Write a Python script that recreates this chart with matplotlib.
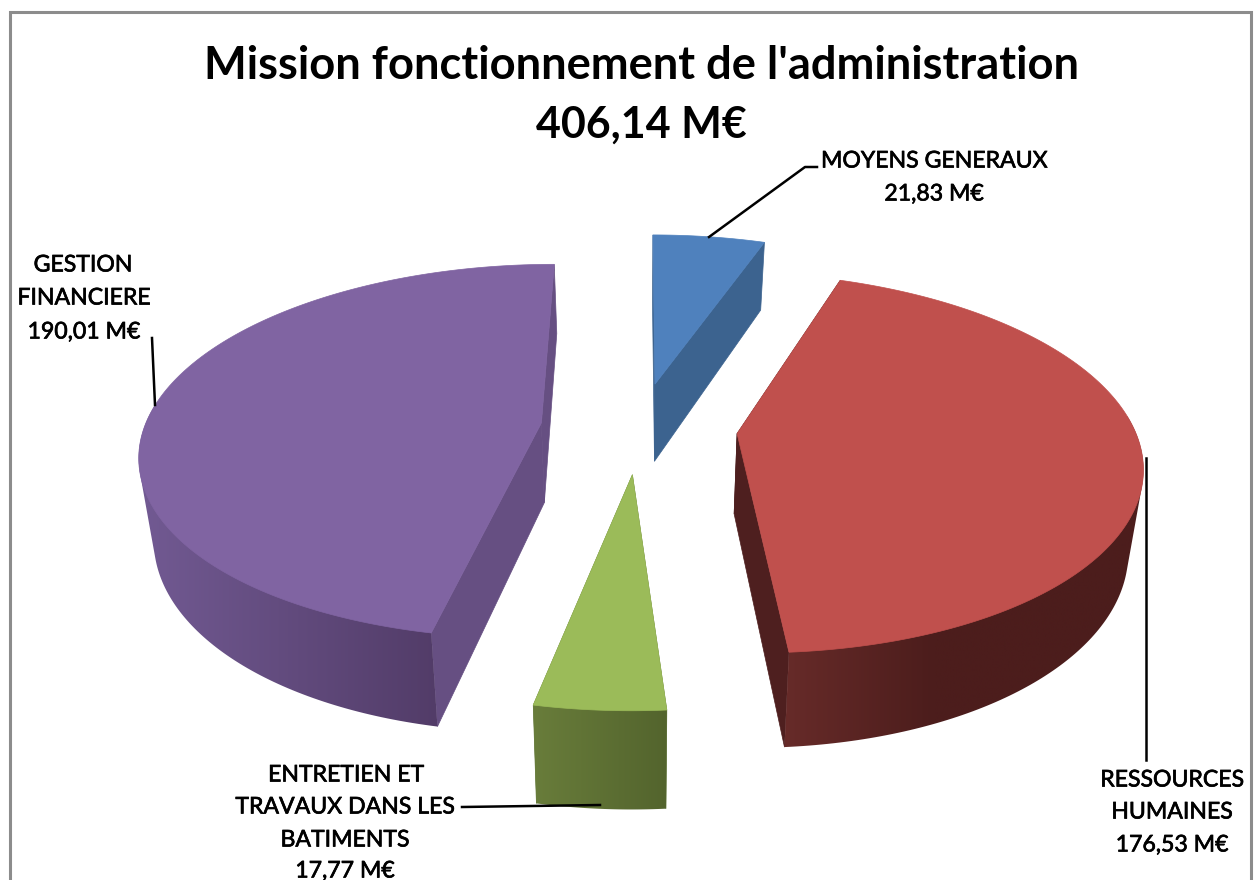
import numpy as np
import matplotlib
matplotlib.use("Agg")
import matplotlib.pyplot as plt
import matplotlib.patheffects as pe
from matplotlib.colors import to_rgb
from matplotlib.patches import Polygon

# Data (clockwise from 12 o'clock)
names = ["MOYENS GENERAUX", "RESSOURCES HUMAINES", "ENTRETIEN ET TRAVAUX DANS LES BATIMENTS", "GESTION FINANCIERE"]
values = [21.83, 176.53, 17.77, 190.01]
value_labels = ["21,83 M€", "176,53 M€", "17,77 M€", "190,01 M€"]
total_label = "406,14 M€"
title_line = "Mission fonctionnement de l'administration"

top_colors = ["#4f81bd", "#c0504d", "#9bbb59", "#8064a2"]
radial_colors = ["#3c638f", "#4e1f1f", "#5f7536", "#664f82"]
wall_start = ["#3c638f", "#672b29", "#697d3b", "#725a93"]
wall_end = ["#3c638f", "#4c1d1c", "#53642d", "#523c68"]

plt.rcParams["font.family"] = ["Lato", "DejaVu Sans"]
fig = plt.figure(figsize=(12.57, 8.8), dpi=100)
ax = fig.add_axes([0, 0, 1, 1])
ax.set_xlim(0, 1257)
ax.set_ylim(880, 0)
ax.axis("off")

# Perspective model
X0, Y0, A, B, K, E, H, DEPTH = 639, 427.5, 397, 184, 0.152, 0.248, 80, 0.97


def project(X, V, bottom=False):
    s = 1 / (1 - K * V)
    x = A * X * s
    y = B * V * s
    if bottom:
        x = x * DEPTH
        y = y + H * s
    return X0 + x, Y0 + y


def hull(points):
    pts = sorted(set(map(tuple, points)))

    def half(seq):
        out = []
        for p in seq:
            while len(out) > 1 and ((out[-1][0] - out[-2][0]) * (p[1] - out[-2][1])
                                    - (out[-1][1] - out[-2][1]) * (p[0] - out[-2][0])) <= 0:
                out.pop()
            out.append(p)
        return out[:-1]

    return np.array(half(pts) + half(pts[::-1]))


fracs = np.cumsum([0] + values) / sum(values) * 2 * np.pi
for i in range(len(values)):
    a0, a1 = fracs[i], fracs[i + 1]
    mid = (a0 + a1) / 2
    ox, ov = E * np.sin(mid), -E * np.cos(mid)
    th = np.linspace(a0, a1, 200)
    wx, wv = ox + np.sin(th), ov - np.cos(th)
    tx, ty = project(wx, wv)
    bx, by = project(wx, wv, True)
    cx, cy = project(ox, ov)
    dx, dy = project(ox, ov, True)

    # radial walls
    for k in (0, -1):
        ax.add_patch(Polygon([(cx, cy), (tx[k], ty[k]), (bx[k], by[k]), (dx, dy)], closed=True,
                             fc=radial_colors[i], ec=radial_colors[i], lw=0.5, zorder=2))

    # outer wall (front part only): smooth horizontal shading clipped to its outline
    front = np.cos(th) < 0.1
    if front.any():
        outline = hull(np.column_stack([np.r_[tx[front], bx[front]], np.r_[ty[front], by[front]]]))
        wall = Polygon(outline, closed=True, fc="none", ec="none", transform=ax.transData)
        ax.add_patch(wall)
        c0, c1 = np.array(to_rgb(wall_start[i])), np.array(to_rgb(wall_end[i]))
        t = np.linspace(0, 1, 256)
        if i == 1:
            t = np.minimum(1, t * 2.4)
        grad = (c0[None, :] + (c1 - c0)[None, :] * t[:, None])[None, :, :]
        im = ax.imshow(grad, extent=[outline[:, 0].min() - 1, outline[:, 0].max() + 1,
                                     outline[:, 1].max() + 1, outline[:, 1].min() - 1],
                       aspect="auto", zorder=3, interpolation="bilinear")
        im.set_clip_path(wall)

    # top face
    ax.add_patch(Polygon(np.column_stack([np.r_[cx, tx], np.r_[cy, ty]]), closed=True,
                         fc=top_colors[i], ec=top_colors[i], lw=0.5, zorder=4))

ax.set_xlim(0, 1257)
ax.set_ylim(880, 0)

# Frame
ax.plot([10, 10, 1251, 1251], [880, 12.5, 12.5, 880], color="#8c8c8c", lw=2.2, zorder=1,
        solid_joinstyle="miter")

# Title
ax.text(641, 66, title_line, ha="center", va="center", fontsize=32.6, fontweight="bold", color="black", zorder=6)
ax.text(641, 125, total_label, ha="center", va="center", fontsize=31, fontweight="bold", color="black", zorder=6)

# Leader lines
for xs, ys in [([709, 805, 817], [237, 167, 167]),
               ([1146, 1146], [458, 760]),
               ([462, 600], [807, 805]),
               ([152, 155], [338, 405])]:
    ax.plot(xs, ys, color="black", lw=1.8, zorder=5)

# Labels
stroke = [pe.withStroke(linewidth=0.5, foreground="black")]
lab = dict(ha="center", va="center", fontsize=16.6, color="black", zorder=6, path_effects=stroke)
ax.text(934, 161, names[0], **lab)
ax.text(934, 194, value_labels[0], **lab)
ax.text(1172, 780, "RESSOURCES", **lab)
ax.text(1172, 812, "HUMAINES", **lab)
ax.text(1172, 845, value_labels[1], **lab)
ax.text(346, 775, "ENTRETIEN ET", **lab)
ax.text(345, 807, "TRAVAUX DANS LES", **lab)
ax.text(345, 840, "BATIMENTS", **lab)
ax.text(345, 871, value_labels[2], **lab)
ax.text(83, 265, "GESTION", **lab)
ax.text(84, 298, "FINANCIERE", **lab)
ax.text(84, 332, value_labels[3], **lab)

fig.savefig("out.png", dpi=100)
